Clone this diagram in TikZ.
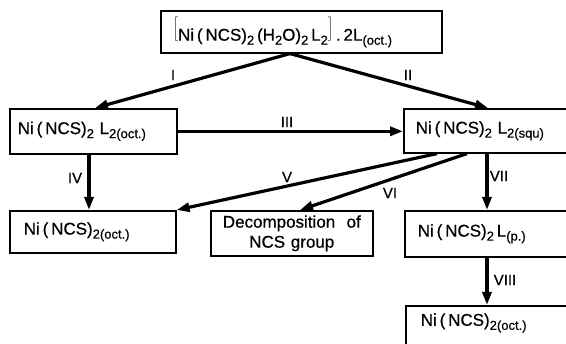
\documentclass[tikz,border=0pt]{standalone}
\usepackage{fontspec}
\setmainfont{Liberation Sans}[FakeBold=0.6]
\usetikzlibrary{arrows.meta}
\newcommand\sbs[1]{\raisebox{-0.45ex}{\fontsize{13}{13}\selectfont #1}}
\begin{document}
\begin{tikzpicture}[x=1pt,y=-1pt,
  box/.style={draw, line width=1.6pt, rectangle, anchor=north west, inner ysep=0pt, align=left, font=\fontsize{17}{20}\selectfont},
  arr/.style={line width=3.2pt, -{Triangle[length=13pt,width=9pt]}},
  lab/.style={font=\fontsize{15}{15}\selectfont, inner sep=0pt}]
\useasboundingbox (0,0) rectangle (566,344);
\clip (0,0) rectangle (566,344);
% boxes
\node[box, minimum width=281, minimum height=42, text width=257, inner xsep=12] (top) at (160,10)
  {\raisebox{7pt}{$\Bigg[$}Ni\,(\,NCS)\sbs{2}\,(H\sbs{2}O)\sbs{2}\,L\sbs{2}\raisebox{7pt}{$\Bigg]$}\,.\,2L\sbs{(oct.)}};
\node[box, minimum width=167, minimum height=45, text width=151, inner xsep=8] (L1) at (9,108)
  {Ni\,(\,NCS)\sbs{2}\,\,L\sbs{2(oct.)}};
\node[box, minimum width=177, minimum height=44, text width=153, inner xsep=12] (R1) at (403,108)
  {Ni\,(\,NCS)\sbs{2}\,\,L\sbs{2(squ)}};
\node[box, minimum width=166, minimum height=42, text width=138, inner xsep=14] (L2) at (9,210)
  {Ni\,(\,NCS)\sbs{2(oct.)}};
\node[box, minimum width=162, minimum height=45, text width=150, inner xsep=6, align=center] (D) at (210,210)
  {Decomposition\ \ of\\NCS group};
\node[box, minimum width=176, minimum height=46, text width=150, inner xsep=13] (R2) at (404,210)
  {Ni\,(\,NCS)\sbs{2}\,L\sbs{(p.)}};
\node[box, minimum width=175, text width=145, inner xsep=15] (R3) at (405,305)
  {\rule[-35pt]{0pt}{55pt}Ni\,(\,NCS)\sbs{2(oct.)}};
% arrows
\draw[arr] ([xshift=130]top.south west) -- ([xshift=86]L1.north west);
\draw[arr] ([xshift=130]top.south west) -- ([xshift=85]R1.north west);
\draw[arr] (L1.east) -- (L1.east -| R1.west);
\draw[arr] ([xshift=80]L1.south west) -- ([xshift=80]L2.north west);
\draw[arr] ([xshift=34]R1.south west) -- (L2.north east);
\draw[arr] ([xshift=64]R1.south west) -- ([xshift=90]D.north west);
\draw[arr] ([xshift=84]R1.south west) -- ([xshift=83]R2.north west);
\draw[arr] ([xshift=83]R2.south west) -- ([xshift=82]R3.north west);
% labels
\node[lab] (nI) at (173,75) {I};
\node[lab] (nII) at (408,75) {II};
\node[lab] (nIII) at (287,122) {III};
\node[lab] (nIV) at (75,178) {IV};
\node[lab] (nV) at (287,177) {V};
\node[lab] (nVI) at (390,193) {VI};
\node[lab] (nVII) at (499,176) {VII};
\node[lab] (nVIII) at (505,280) {VIII};
\end{tikzpicture}
\end{document}
